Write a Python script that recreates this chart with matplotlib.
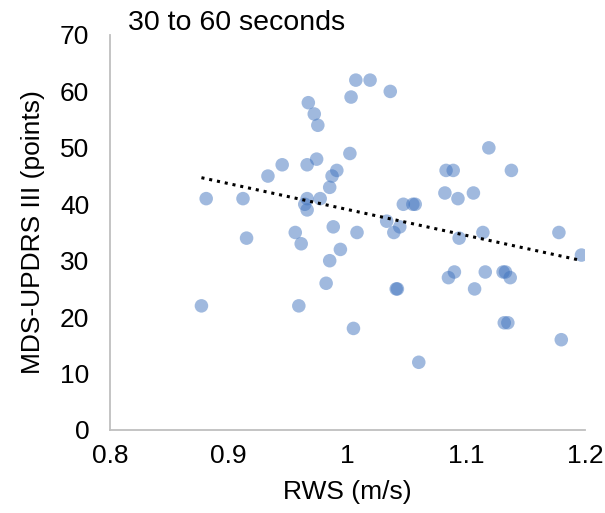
import numpy as np
import matplotlib
matplotlib.use('Agg')
import matplotlib.pyplot as plt

plt.rcParams['font.family'] = ['Liberation Sans', 'DejaVu Sans']

# RWS (m/s) vs MDS-UPDRS III, 30 to 60 seconds
rws = [0.877, 0.881, 0.912, 0.915, 0.933, 0.945, 0.956, 0.959, 0.961, 0.964,
       0.966, 0.966, 0.966, 0.967, 0.972, 0.974, 0.975, 0.977, 0.982, 0.985,
       0.985, 0.987, 0.988, 0.991, 0.994, 1.002, 1.003, 1.005, 1.007, 1.008,
       1.019, 1.033, 1.036, 1.039, 1.041, 1.042, 1.044, 1.047, 1.055, 1.057,
       1.060, 1.082, 1.083, 1.085, 1.089, 1.090, 1.093, 1.094, 1.106, 1.107,
       1.114, 1.116, 1.119, 1.131, 1.132, 1.133, 1.135, 1.137, 1.138, 1.178,
       1.180, 1.197]
updrs = [22, 41, 41, 34, 45, 47, 35, 22, 33, 40,
         39, 41, 47, 58, 56, 48, 54, 41, 26, 43,
         30, 45, 36, 46, 32, 49, 59, 18, 62, 35,
         62, 37, 60, 35, 25, 25, 36, 40, 40, 40,
         12, 42, 46, 27, 46, 28, 41, 34, 42, 25,
         35, 28, 50, 28, 19, 28, 19, 27, 46, 35,
         16, 31]

fig = plt.figure(figsize=(6.05, 5.13), dpi=100)
ax = fig.add_axes([0.1818, 0.1618, 0.7852, 0.77])

ax.scatter(rws, updrs, s=95, color='#4275BF', alpha=0.5, edgecolors='none', zorder=2)

# linear trendline
k, b = np.polyfit(rws, updrs, 1)
xs = np.array([min(rws), max(rws)])
ax.plot(xs, k * xs + b, color='black', linestyle=(0, (1, 1.6)), linewidth=2.2, zorder=3)

ax.set_xlim(0.8, 1.2)
ax.set_ylim(0, 70)
ax.set_xticks([0.8, 0.9, 1.0, 1.1, 1.2])
ax.set_xticklabels(['0.8', '0.9', '1', '1.1', '1.2'])
ax.set_yticks(range(0, 71, 10))
ax.tick_params(length=0, labelsize=19)
ax.tick_params(axis='x', pad=10)
ax.tick_params(axis='y', pad=15)
for s in ['top', 'right']:
    ax.spines[s].set_visible(False)
for s in ['left', 'bottom']:
    ax.spines[s].set_color('#BFBFBF')
    ax.spines[s].set_linewidth(1.3)

ax.set_xlabel('RWS (m/s)', fontsize=19, labelpad=9)
ax.set_ylabel('MDS-UPDRS III (points)', fontsize=19, labelpad=11)
fig.text(0.211, 0.955, '30 to 60 seconds', fontsize=20.5, va='center', ha='left')

fig.savefig('out.png', dpi=100)
